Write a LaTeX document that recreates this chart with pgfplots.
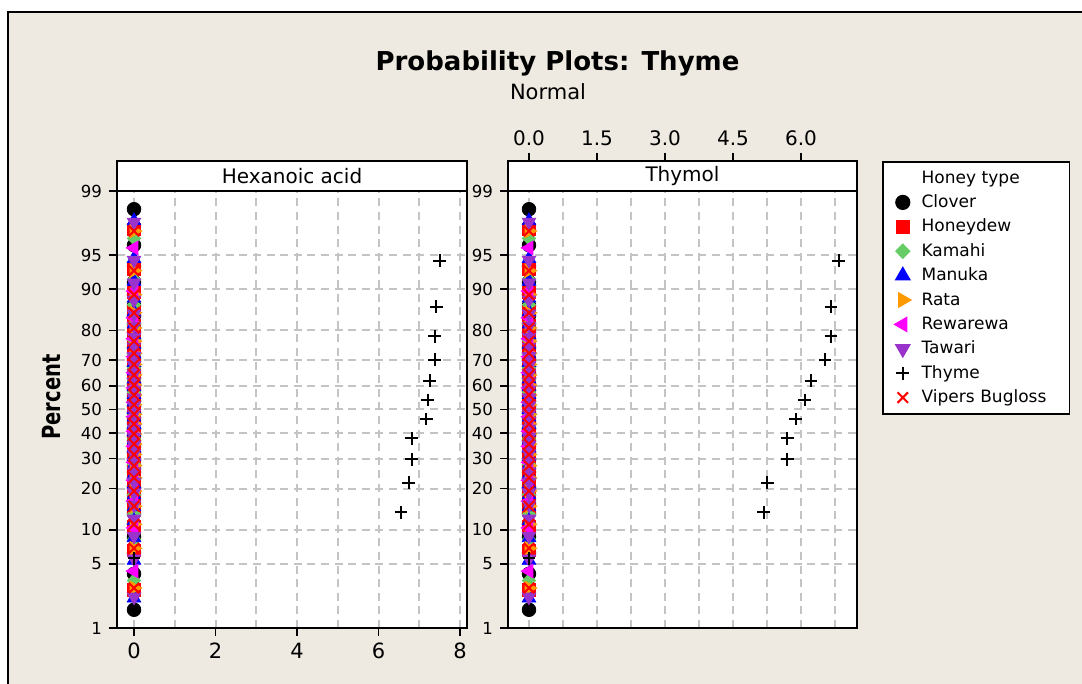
\documentclass[border=0pt]{standalone}
\usepackage{fontspec}
\setmainfont{DejaVu Sans}
\usepackage{graphicx}
\usepackage{pgfplots}
\usepackage{pgfplotstable}
\pgfplotsset{compat=1.18}

\definecolor{bgbeige}{RGB}{238,234,225}
\definecolor{cKamahi}{RGB}{102,204,102}
\definecolor{cRata}{RGB}{255,153,0}
\definecolor{cTawari}{RGB}{153,51,204}
\definecolor{cMagenta}{RGB}{255,0,255}
\definecolor{cBlue}{RGB}{0,0,255}
\definecolor{cRed}{RGB}{255,0,0}
\definecolor{cGrid}{RGB}{196,196,196}

% normal probability scale on y: data are given in percent
\pgfplotsset{
  probscale/.style={
    y coord trafo/.code={%
      \begingroup
      \pgfkeys{/pgf/fpu=true}%
      \pgfmathparse{(##1)/100}\let\prbP\pgfmathresult
      \pgfmathparse{\prbP>0.5 ? 1-\prbP : \prbP}\let\prbQ\pgfmathresult
      \pgfmathparse{sqrt(-2*ln(\prbQ))}\let\prbT\pgfmathresult
      \pgfmathparse{\prbT-(2.515517+0.802853*\prbT+0.010328*\prbT*\prbT)/(1+1.432788*\prbT+0.189269*\prbT*\prbT+0.001308*\prbT*\prbT*\prbT)}\let\prbZ\pgfmathresult
      \pgfmathparse{\prbP>0.5 ? \prbZ : -1*\prbZ}%
      \pgfmathfloattofixed{\pgfmathresult}%
      \xdef\prbResult{\pgfmathresult}%
      \endgroup
      \let\pgfmathresult\prbResult
    }
  },
  om/.style={only marks,
    legend image code/.code={\draw[mark repeat=2,mark phase=2,##1] plot coordinates {(0pt,0pt) (5pt,0pt) (10pt,0pt)};}},
  mainax/.style={
    scale only axis, height=218.5pt, anchor=south west,
    probscale, ymin=1, ymax=99,
    ytick={1,5,10,20,30,40,50,60,70,80,90,95,99},
    yticklabels={1,5,10,20,30,40,50,60,70,80,90,95,99},
    ymajorgrids,
    axis background/.style={fill=white},
    axis line style={line width=1pt},
    tick style={black, line width=0.8pt},
    tick align=outside, major tick length=4pt, minor tick length=0pt,
    xtick pos=left, ytick pos=left,
    grid style={cGrid, line width=1pt, dash pattern=on 4pt off 2.8pt},
    minor grid style={cGrid, line width=1pt, dash pattern=on 4pt off 2.8pt},
    yticklabel style={font=\fontsize{8.3}{9}\selectfont},
  },
  hdrax/.style={
    scale only axis, height=15pt, anchor=south west,
    ymin=0, ymax=1, ytick=\empty,
    axis background/.style={fill=white},
    axis line style={line width=1pt},
  },
  sClover/.style={om, mark=*, mark size=3.4pt, black, mark options={fill=black}},
  sHoney/.style={om, mark=square*, mark size=3.2pt, cRed, mark options={fill=cRed}},
  sKamahi/.style={om, mark=diamond*, mark size=3.4pt, cKamahi, mark options={fill=cKamahi, xscale=1.3}},
  sManuka/.style={om, mark=triangle*, mark size=3.9pt, cBlue, mark options={fill=cBlue}},
  sRata/.style={om, mark=triangle*, mark size=3.9pt, cRata, mark options={fill=cRata, rotate=-90}},
  sRew/.style={om, mark=triangle*, mark size=3.9pt, cMagenta, mark options={fill=cMagenta, rotate=90}},
  sTawari/.style={om, mark=triangle*, mark size=3.9pt, cTawari, mark options={fill=cTawari, rotate=180}},
  sThyme/.style={om, mark=+, mark size=3.2pt, black, mark options={line width=1pt}},
  sVipers/.style={om, mark=x, mark size=3.7pt, cRed, mark options={line width=1pt}},
}

% plotting positions (percent) and values
\pgfplotstableread{
p v
1.65 0
4.01 0
6.37 0
8.73 0
11.08 0
13.44 0
15.80 0
18.16 0
20.52 0
22.88 0
25.24 0
27.59 0
29.95 0
32.31 0
34.67 0
37.03 0
39.39 0
41.75 0
44.10 0
46.46 0
48.82 0
51.18 0
53.54 0
55.90 0
58.25 0
60.61 0
62.97 0
65.33 0
67.69 0
70.05 0
72.41 0
74.76 0
77.12 0
79.48 0
81.84 0
84.20 0
86.56 0
88.92 0
91.27 0
93.63 0
95.99 0
98.35 0
}\tClover

\pgfplotstableread{
p v
2.76 0
6.69 0
10.63 0
14.57 0
18.50 0
22.44 0
26.38 0
30.31 0
34.25 0
38.19 0
42.13 0
46.06 0
50.00 0
53.94 0
57.87 0
61.81 0
65.75 0
69.69 0
73.62 0
77.56 0
81.50 0
85.43 0
89.37 0
93.31 0
97.24 0
}\tHoney

\pgfplotstableread{
p v
3.43 0
8.33 0
13.24 0
18.14 0
23.04 0
27.94 0
32.84 0
37.75 0
42.65 0
47.55 0
52.45 0
57.35 0
62.25 0
67.16 0
72.06 0
76.96 0
81.86 0
86.76 0
91.67 0
96.57 0
}\tKamahi

\pgfplotstableread{
p v
2.23 0
5.41 0
8.60 0
11.78 0
14.97 0
18.15 0
21.34 0
24.52 0
27.71 0
30.89 0
34.08 0
37.26 0
40.45 0
43.63 0
46.82 0
50.00 0
53.18 0
56.37 0
59.55 0
62.74 0
65.92 0
69.11 0
72.29 0
75.48 0
78.66 0
81.85 0
85.03 0
88.22 0
91.40 0
94.59 0
97.77 0
}\tManuka

\pgfplotstableread{
p v
2.87 0
6.97 0
11.07 0
15.16 0
19.26 0
23.36 0
27.46 0
31.56 0
35.66 0
39.75 0
43.85 0
47.95 0
52.05 0
56.15 0
60.25 0
64.34 0
68.44 0
72.54 0
76.64 0
80.74 0
84.84 0
88.93 0
93.03 0
97.13 0
}\tRata

\pgfplotstableread{
p v
4.27 0
10.37 0
16.46 0
22.56 0
28.66 0
34.76 0
40.85 0
46.95 0
53.05 0
59.15 0
65.24 0
71.34 0
77.44 0
83.54 0
89.63 0
95.73 0
}\tRew

\pgfplotstableread{
p v
2.30 0
5.59 0
8.88 0
12.17 0
15.46 0
18.75 0
22.04 0
25.33 0
28.62 0
31.91 0
35.20 0
38.49 0
41.78 0
45.07 0
48.36 0
51.64 0
54.93 0
58.22 0
61.51 0
64.80 0
68.09 0
71.38 0
74.67 0
77.96 0
81.25 0
84.54 0
87.83 0
91.12 0
94.41 0
97.70 0
}\tTawari

\pgfplotstableread{
p hex thy
5.65 0 0
13.71 6.55 5.18
21.77 6.74 5.26
29.84 6.81 5.70
37.90 6.81 5.70
45.97 7.17 5.88
54.03 7.21 6.08
62.10 7.25 6.22
70.16 7.38 6.53
78.23 7.38 6.66
86.29 7.42 6.66
94.35 7.50 6.83
}\tThyme

\pgfplotstableread{
p v
2.87 0
6.97 0
11.07 0
15.16 0
19.26 0
23.36 0
27.46 0
31.56 0
35.66 0
39.75 0
43.85 0
47.95 0
52.05 0
56.15 0
60.25 0
64.34 0
68.44 0
72.54 0
76.64 0
80.74 0
84.84 0
88.93 0
93.03 0
97.13 0
}\tVipers

\begin{document}
\begin{tikzpicture}
\path[use as bounding box] (0,0) rectangle (541pt,342pt);
\fill[white] (0,0) rectangle (541pt,342pt);
\fill[bgbeige] (4pt,0) rectangle (541pt,336pt);
\draw[line width=1pt] (4pt,0) -- (4pt,336pt) -- (541pt,336pt);

% ---------- left panel: Hexanoic acid ----------
\begin{axis}[mainax, at={(58.5pt,28pt)}, width=175pt,
  xmin=-0.417, xmax=8.17,
  xtick={0,2,4,6,8}, xticklabels={0,2,4,6,8},
  minor xtick={1,3,5,7},
  xmajorgrids, xminorgrids,
  xticklabel style={font=\fontsize{10.5}{12}\selectfont},
]
\addplot[sClover] table[x=v,y=p] {\tClover};
\addplot[sHoney] table[x=v,y=p] {\tHoney};
\addplot[sKamahi] table[x=v,y=p] {\tKamahi};
\addplot[sManuka] table[x=v,y=p] {\tManuka};
\addplot[sRata] table[x=v,y=p] {\tRata};
\addplot[sRew] table[x=v,y=p] {\tRew};
\addplot[sTawari] table[x=v,y=p] {\tTawari};
\addplot[sThyme] table[x=hex,y=p] {\tThyme};
\addplot[sVipers] table[x=v,y=p] {\tVipers};
\end{axis}
\begin{axis}[hdrax, at={(58.5pt,246.5pt)}, width=175pt,
  xmin=-0.417, xmax=8.17, xtick=\empty]
\node[font=\fontsize{10}{12}\selectfont] at (rel axis cs:0.5,0.5) {Hexanoic acid};
\end{axis}

% ---------- right panel: Thymol ----------
\begin{axis}[mainax, at={(254pt,28pt)}, width=174.5pt,
  xmin=-0.463, xmax=7.235,
  xtick={0,0.75,1.5,2.25,3,3.75,4.5,5.25,6,6.75}, xticklabels={},
  xtick style={draw=none},
  xmajorgrids,
  legend entries={Honey type,Clover,Honeydew,Kamahi,Manuka,Rata,Rewarewa,Tawari,Thyme,Vipers Bugloss},
  legend style={at={(axis description cs:1.0716,1.0686)}, anchor=north west,
    draw=black, line width=0.8pt, fill=white,
    font=\fontsize{8.5}{10}\selectfont,
    inner xsep=5pt, inner ysep=2.6pt, row sep=1.2pt, column sep=4.5pt,
    nodes={inner sep=1pt, text height=7pt, text depth=2pt, text width=68pt}},
]
\addlegendimage{empty legend}
\addplot[sClover] table[x=v,y=p] {\tClover};
\addplot[sHoney] table[x=v,y=p] {\tHoney};
\addplot[sKamahi] table[x=v,y=p] {\tKamahi};
\addplot[sManuka] table[x=v,y=p] {\tManuka};
\addplot[sRata] table[x=v,y=p] {\tRata};
\addplot[sRew] table[x=v,y=p] {\tRew};
\addplot[sTawari] table[x=v,y=p] {\tTawari};
\addplot[sThyme] table[x=thy,y=p] {\tThyme};
\addplot[sVipers] table[x=v,y=p] {\tVipers};
\end{axis}
\begin{axis}[hdrax, at={(254pt,246.5pt)}, width=174.5pt,
  xmin=-0.463, xmax=7.235,
  xtick={0,1.5,3,4.5,6}, xticklabels={0.0,1.5,3.0,4.5,6.0},
  xtick pos=right, xticklabel pos=right,
  tick align=outside, major tick length=4pt,
  tick style={black, line width=0.8pt},
  xticklabel style={font=\fontsize{10}{12}\selectfont},
]
\node[font=\fontsize{10}{12}\selectfont] at (rel axis cs:0.5,0.5) {Thymol};
\end{axis}

% ---------- titles ----------
\node[anchor=base, font=\fontsize{13}{15}\selectfont\bfseries] at (278.75pt,306.5pt) {Probability Plots: Thyme};
\node[anchor=base, font=\fontsize{10.5}{12}\selectfont] at (274pt,292pt) {Normal};
\node[rotate=90, font=\fontsize{12.5}{14}\selectfont\bfseries] at (26pt,143.5pt) {\scalebox{0.78}[1]{Percent}};
\end{tikzpicture}
\end{document}
